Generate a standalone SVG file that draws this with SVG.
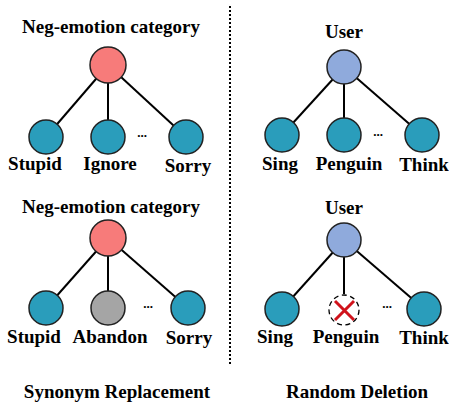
<svg xmlns="http://www.w3.org/2000/svg" width="449" height="410" viewBox="0 0 449 410">
<style>
.t{font-weight:bold;font-size:19px;fill:#000;text-anchor:middle}
.e{stroke:#000;stroke-width:2}
.n{stroke:#222;stroke-width:1.5}
.neg{fill:#f77b7a}
.usr{fill:#8faadc}
.leaf{fill:#2a9dbb}
.gray{fill:#a5a5a5}
.dots{font-size:13px}
</style>
<rect width="449" height="410" fill="#fff"/>
<line x1="230" y1="6" x2="230" y2="366" stroke="#000" stroke-width="2" stroke-dasharray="2,2"/>
<g id="connectors">
<line class="e" x1="108" y1="65" x2="46" y2="137"/>
<line class="e" x1="108" y1="65" x2="108" y2="137"/>
<line class="e" x1="108" y1="65" x2="186" y2="137"/>
<line class="e" x1="344" y1="67" x2="282" y2="135"/>
<line class="e" x1="344" y1="67" x2="344" y2="135"/>
<line class="e" x1="344" y1="67" x2="422" y2="135"/>
<line class="e" x1="108" y1="238" x2="46" y2="308"/>
<line class="e" x1="108" y1="238" x2="108" y2="308"/>
<line class="e" x1="108" y1="238" x2="188" y2="308"/>
<line class="e" x1="344" y1="240" x2="282" y2="309"/>
<line class="e" x1="344" y1="240" x2="344" y2="294"/>
<line class="e" x1="344" y1="240" x2="424" y2="309"/>
</g>
<g font-family="Liberation Serif, Times New Roman, serif">
<g id="tl-root"><text class="t" x="111" y="33">Neg-emotion category</text><circle class="n neg" cx="108" cy="65" r="18"/></g>
<g id="tl-stupid"><circle class="n leaf" cx="46" cy="137" r="17"/><text class="t" x="35" y="170">Stupid</text></g>
<g id="tl-ignore"><circle class="n leaf" cx="108" cy="137" r="17"/><text class="t" x="110" y="170">Ignore</text></g>
<g id="tl-sorry"><circle class="n leaf" cx="186" cy="137" r="17"/><text class="t" x="188" y="172">Sorry</text></g>
<text class="t dots" x="142" y="137">...</text>
<g id="tr-root"><text class="t" x="344" y="38">User</text><circle class="n usr" cx="344" cy="67" r="17"/></g>
<g id="tr-sing"><circle class="n leaf" cx="282" cy="135" r="17"/><text class="t" x="280" y="170">Sing</text></g>
<g id="tr-penguin"><circle class="n leaf" cx="344" cy="135" r="17"/><text class="t" x="349" y="170">Penguin</text></g>
<g id="tr-think"><circle class="n leaf" cx="422" cy="135" r="17"/><text class="t" x="424" y="171">Think</text></g>
<text class="t dots" x="378" y="136">...</text>
<g id="bl-root"><text class="t" x="111" y="213">Neg-emotion category</text><circle class="n neg" cx="108" cy="238" r="18"/></g>
<g id="bl-stupid"><circle class="n leaf" cx="46" cy="308" r="17"/><text class="t" x="34" y="343">Stupid</text></g>
<g id="bl-abandon"><circle class="n gray" cx="108" cy="308" r="17"/><text class="t" x="110" y="343">Abandon</text></g>
<g id="bl-sorry"><circle class="n leaf" cx="188" cy="308" r="17"/><text class="t" x="189" y="344">Sorry</text></g>
<text class="t dots" x="148" y="308">...</text>
<g id="br-root"><text class="t" x="344" y="214">User</text><circle class="n usr" cx="344" cy="240" r="17"/></g>
<g id="br-sing"><circle class="n leaf" cx="282" cy="309" r="17"/><text class="t" x="275" y="343">Sing</text></g>
<g id="br-penguin"><circle cx="344" cy="310" r="15" fill="#fff" stroke="#000" stroke-width="1.3" stroke-dasharray="5,3.5"/><path d="M335 301 L354 320 M354 301 L335 320" stroke="#d0121b" stroke-width="3"/><text class="t" x="346" y="343">Penguin</text></g>
<g id="br-think"><circle class="n leaf" cx="424" cy="309" r="17"/><text class="t" x="424" y="344">Think</text></g>
<text class="t dots" x="387" y="308">...</text>
<text class="t" x="117" y="398">Synonym Replacement</text>
<text class="t" x="357" y="398">Random Deletion</text>
</g>
</svg>
